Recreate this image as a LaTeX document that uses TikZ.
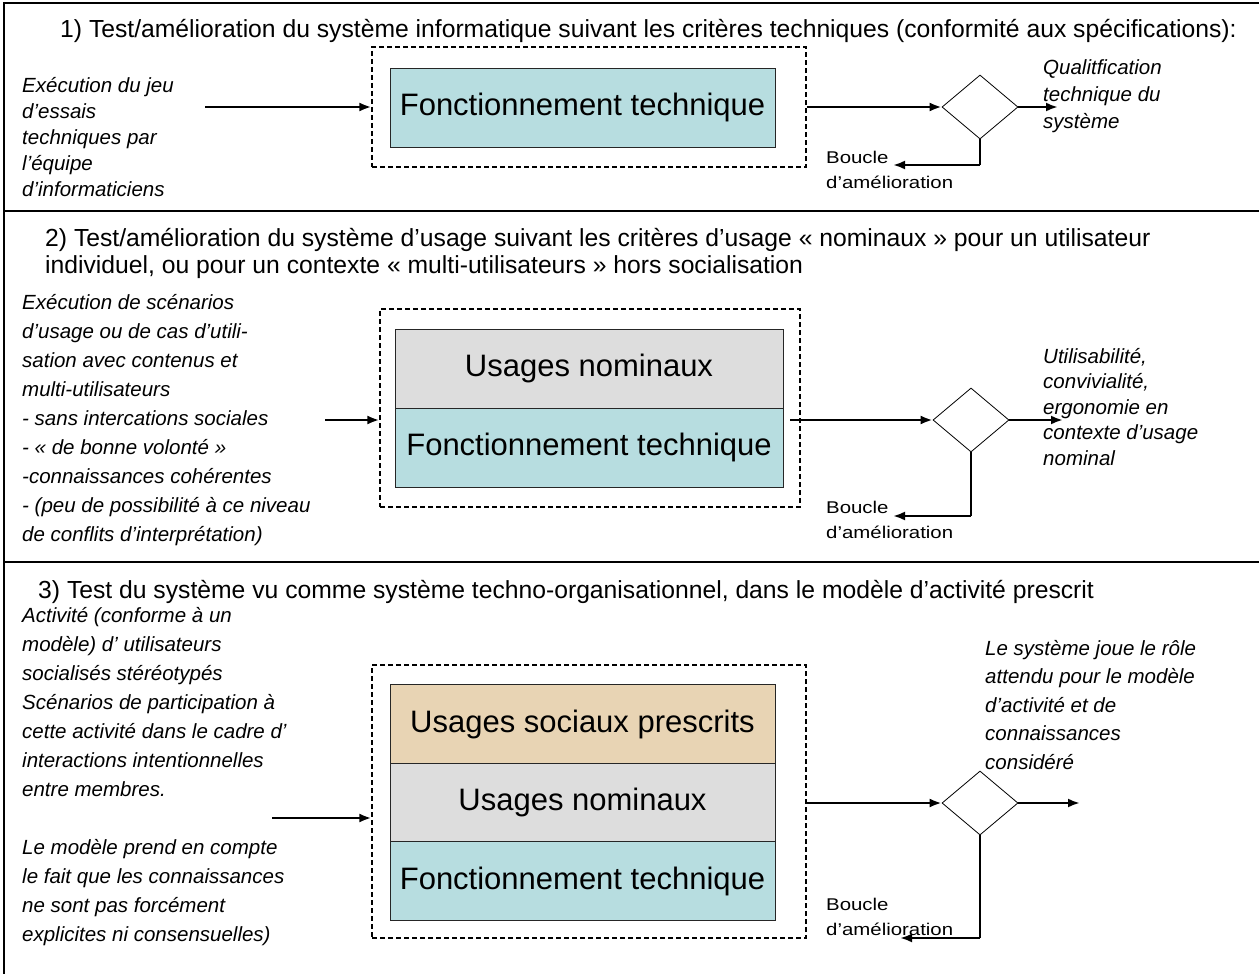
\documentclass[tikz,border=0pt]{standalone}
\usepackage{fontspec}
\setmainfont{Liberation Sans}
\newfontfamily\boucfont[FakeStretch=1.2]{Liberation Sans}
\usetikzlibrary{arrows.meta,shapes.geometric}
\definecolor{techblue}{RGB}{183,221,224}
\definecolor{nomgray}{RGB}{221,221,221}
\definecolor{soctan}{RGB}{232,212,180}
\newcommand\fl{\rule{0pt}{19.5pt}}
\newcommand\flt{\rule{0pt}{23.5pt}}
\newcommand\fls{\rule{0pt}{16pt}}
\begin{document}
\begin{tikzpicture}[x=1pt,y=-1pt,
  frameline/.style={line width=1.5pt},
  dashbox/.style={draw, rectangle, line width=1.3pt, dash pattern=on 5pt off 3pt, inner sep=0pt},
  layer/.style={draw=black!85, rectangle, line width=0.8pt, minimum width=385pt, minimum height=79pt, inner sep=0pt, font=\fontsize{31}{36}\selectfont},
  decision/.style={diamond, draw, line width=0.8pt, fill=white, minimum width=76pt, minimum height=64pt, inner sep=0pt},
  flow/.style={line width=2.3pt, -{Latex[length=12pt,width=9pt]}},
  loopline/.style={line width=1.2pt},
  titletext/.style={anchor=north west, inner sep=0pt, align=left, font=\fontsize{24.7}{27}\selectfont},
  blocktext/.style={anchor=north west, inner sep=0pt, align=left},
  bouctext/.style={anchor=north west, inner sep=0pt, align=left, font=\boucfont\fontsize{17}{25}\selectfont}
]
\useasboundingbox (0,0) rectangle (1259,974);
% frame
\draw[frameline] (1259,3) -- (4,3) -- (4,974);
\draw[frameline] (4,211) -- (1259,211);
\draw[frameline] (4,562) -- (1259,562);

% ---------- section 1
\node[titletext] (title1) at (60,14.3) {\flt 1) Test/amélioration du système informatique suivant les critères techniques (conformité aux spécifications):};
\node[blocktext, font=\fontsize{20.5}{26}\selectfont\itshape] (lt1) at (22,72.5)
  {\fl Exécution du jeu\\d’essais\\techniques par\\l’équipe\\d’informaticiens};
\node[dashbox, minimum width=434pt, minimum height=120pt] (dash1) at (589,107) {};
\node[layer, fill=techblue] (blue1) at (582.5,107.5) {Fonctionnement technique};
\node[decision] (d1) at (980,107) {};
\coordinate (in1) at (205,107);
\coordinate (out1) at (1058,107);
\coordinate (k1) at (980,165);
\coordinate (t1) at (893,165);
\draw[flow] (in1) -- (dash1.west);
\draw[flow] (dash1.east) -- (d1.west);
\draw[flow] (d1.east) -- (out1);
\draw[loopline] (d1.south) -- (k1);
\draw[flow] (k1) -- (t1);
\node[blocktext, font=\fontsize{20.5}{27}\selectfont\itshape] (rt1) at (1043,54.5)
  {\fl Qualitfication\\technique du\\système};
\node[bouctext] (bl1) at (826,147) {\fls Boucle\\d’amélioration};

% ---------- section 2
\node[titletext] (title2) at (45,222.3) {\flt 2) Test/amélioration du système d’usage suivant les critères d’usage «~nominaux~» pour un utilisateur\\individuel, ou pour un contexte «~multi-utilisateurs~» hors socialisation};
\node[blocktext, font=\fontsize{20.5}{29}\selectfont\itshape] (lt2) at (22,289.5)
  {\fl Exécution de scénarios\\d’usage ou de cas d’utili-\\sation avec contenus et\\multi-utilisateurs\\- sans intercations sociales\\- «~de bonne volonté~»\\-connaissances cohérentes\\- (peu de possibilité à ce niveau\\de conflits d’interprétation)};
\node[dashbox, minimum width=420pt, minimum height=198pt] (dash2) at (590,408) {};
\node[layer, fill=nomgray, minimum width=388pt] (gray2) at (589,368.5) {Usages nominaux};
\node[layer, fill=techblue, minimum width=388pt] (blue2) at (589,447.5) {Fonctionnement technique};
\node[decision] (d2) at (971,420) {};
\coordinate (in2) at (325,420);
\coordinate (s2) at (790,420);
\coordinate (out2) at (1063,420);
\coordinate (k2) at (971,516);
\coordinate (t2) at (893,516);
\draw[flow] (in2) -- (in2 -| dash2.west);
\draw[flow] (s2) -- (d2.west);
\draw[flow] (d2.east) -- (out2);
\draw[loopline] (d2.south) -- (k2);
\draw[flow] (k2) -- (t2);
\node[blocktext, font=\fontsize{20.5}{25.5}\selectfont\itshape] (rt2) at (1043,343.5)
  {\fl Utilisabilité,\\convivialité,\\ergonomie en\\contexte d’usage\\nominal};
\node[bouctext] (bl2) at (826,497) {\fls Boucle\\d’amélioration};

% ---------- section 3
\node[titletext] (title3) at (38,574.3) {\flt 3) Test du système vu comme système techno-organisationnel, dans le modèle d’activité prescrit};
\node[blocktext, font=\fontsize{20.5}{29}\selectfont\itshape] (lt3) at (22,602.5)
  {\fl Activité (conforme à un\\modèle) d’ utilisateurs\\socialisés stéréotypés\\Scénarios de participation à\\cette activité dans le cadre d’\\interactions intentionnelles\\entre membres.\\[29pt]Le modèle prend en compte\\le fait que les connaissances\\ne sont pas forcément\\explicites ni consensuelles)};
\node[dashbox, minimum width=434pt, minimum height=273pt] (dash3) at (589,801.5) {};
\node[layer, fill=soctan, minimum height=78.5pt] (tan3) at (582.5,724) {Usages sociaux prescrits};
\node[layer, fill=nomgray, minimum height=78.5pt] (gray3) at (582.5,802.5) {Usages nominaux};
\node[layer, fill=techblue, minimum height=78.5pt] (blue3) at (582.5,881) {Fonctionnement technique};
\node[decision] (d3) at (980,803) {};
\coordinate (in3) at (272,818);
\coordinate (out3) at (1080,803);
\coordinate (k3) at (980,938);
\coordinate (t3) at (900,938);
\draw[flow] (in3) -- (in3 -| dash3.west);
\draw[flow] (dash3.east |- d3.west) -- (d3.west);
\draw[flow] (d3.east) -- (out3);
\draw[loopline] (d3.south) -- (k3);
\draw[flow] (k3) -- (t3);
\node[blocktext, font=\fontsize{20.5}{28.5}\selectfont\itshape] (rt3) at (985,635.5)
  {\fl Le système joue le rôle\\attendu pour le modèle\\d’activité et de\\connaissances\\considéré};
\node[bouctext] (bl3) at (826,894) {\fls Boucle\\d’amélioration};
\end{tikzpicture}
\end{document}
